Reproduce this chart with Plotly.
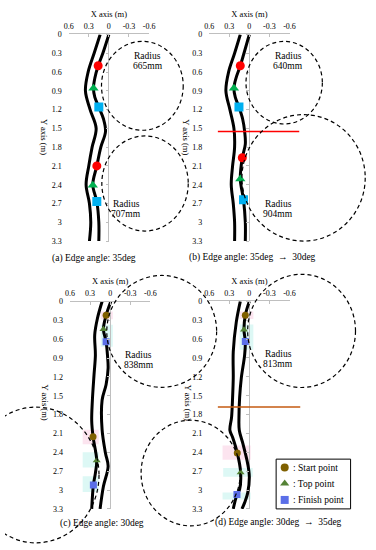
import plotly.graph_objects as go

W, H = 376, 550
FONT = "Liberation Serif"
AXIS_GRAY = "#BFBFBF"

# ---- axis ticks ----
x_ticks = [0.6, 0.3, 0, -0.3, -0.6]
x_tick_text = ["0.6", "0.3", "0", "-0.3", "-0.6"]
y_ticks = [0, 0.3, 0.6, 0.9, 1.2, 1.5, 1.8, 2.1, 2.4, 2.7, 3.0, 3.3]
y_tick_text = ["0", "0.3", "0.6", "0.9", "1.2", "1.5", "1.8", "2.1", "2.4", "2.7", "3", "3.3"]

captions = ["(a) Edge angle: 35deg",
            "(b) Edge angle: 35deg  \u2192  30deg",
            "(c) Edge angle: 30deg",
            "(d) Edge angle: 30deg  \u2192  35deg"]

# ---- edge curves (x, y in metres) ----
a_left_y = [0, 0.3, 0.6, 0.9, 1.2, 1.5, 1.8, 2.1, 2.4, 2.7, 3.0, 3.3]
a_left_x = [0.13, 0.22, 0.31, 0.35, 0.28, 0.19, 0.25, 0.30, 0.34, 0.29, 0.27, 0.29]
a_right_y = [0, 0.3, 0.5, 0.7, 0.86, 1.0, 1.16, 1.35, 1.55, 1.8, 2.1, 2.4, 2.67, 3.0, 3.3]
a_right_x = [0.0, 0.09, 0.16, 0.21, 0.23, 0.21, 0.15, 0.08, 0.05, 0.12, 0.18, 0.24, 0.18, 0.15, 0.15]

b_left_y = [0, 0.3, 0.6, 0.9, 1.2, 1.5, 1.8, 2.1, 2.4, 2.7, 3.0, 3.3]
b_left_x = [0.135, 0.22, 0.31, 0.35, 0.29, 0.23, 0.22, 0.25, 0.27, 0.24, 0.22, 0.22]
b_right_y = [0, 0.3, 0.5, 0.7, 0.86, 1.0, 1.16, 1.35, 1.55, 1.75, 1.97, 2.31, 2.64, 3.0, 3.3]
b_right_x = [0.0, 0.08, 0.135, 0.2, 0.23, 0.21, 0.155, 0.1, 0.07, 0.06, 0.105, 0.135, 0.087, 0.06, 0.06]

c_left_y = [0, 0.27, 0.53, 0.85, 1.16, 1.57, 1.9, 2.15, 2.53, 2.73, 2.92, 3.3]
c_left_x = [0.12, 0.19, 0.23, 0.22, 0.24, 0.265, 0.275, 0.255, 0.20, 0.22, 0.25, 0.275]
c_right_y = [0, 0.22, 0.44, 0.64, 0.85, 1.06, 1.32, 1.57, 2.04, 2.41, 2.62, 2.94, 3.3]
c_right_x = [-0.01, 0.06, 0.10, 0.06, 0.04, 0.03, 0.06, 0.12, 0.12, 0.07, 0.03, 0.10, 0.15]

d_left_y = [0, 0.33, 0.8, 1.22, 1.53, 1.84, 2.05, 2.16, 2.41, 2.72, 2.99, 3.09, 3.3]
d_left_x = [0.135, 0.195, 0.24, 0.24, 0.25, 0.265, 0.29, 0.25, 0.18, 0.13, 0.145, 0.19, 0.24]
d_right_y = [0, 0.22, 0.45, 0.64, 0.85, 1.22, 1.53, 1.84, 2.05, 2.26, 2.58, 2.79, 3.05, 3.2, 3.3]
d_right_x = [0.0, 0.06, 0.08, 0.06, 0.07, 0.12, 0.145, 0.155, 0.15, 0.097, 0.025, 0.0, 0.025, 0.07, 0.11]

left_x = [a_left_x, b_left_x, c_left_x, d_left_x]
left_y = [a_left_y, b_left_y, c_left_y, d_left_y]
right_x = [a_right_x, b_right_x, c_right_x, d_right_x]
right_y = [a_right_y, b_right_y, c_right_y, d_right_y]

# ---- start / top / finish points ----
start_x = [[0.16, 0.18], [0.135, 0.105], [0.06, 0.255], [0.06, 0.18]]
start_y = [[0.50, 2.10], [0.50, 1.97], [0.22, 2.15], [0.22, 2.41]]
top_x = [[0.23, 0.24], [0.23, 0.135], [0.10, 0.20], [0.08, 0.13]]
top_y = [[0.86, 2.41], [0.86, 2.31], [0.44, 2.53], [0.45, 2.72]]
finish_x = [[0.15, 0.18], [0.155, 0.087], [0.06, 0.25], [0.06, 0.185]]
finish_y = [[1.16, 2.67], [1.16, 2.64], [0.64, 2.92], [0.64, 3.07]]

# highlighted zones behind the points (panels c, d): x0, x1, y0, y1
zone_start = [None, None, [[0.14, -0.04, 0.16, 0.28], [0.41, 0.17, 2.04, 2.27]],
              [[0.145, -0.06, 0.16, 0.28], [0.40, -0.02, 2.29, 2.52]]]
zone_run = [None, None, [[0.14, -0.04, 0.37, 0.72], [0.41, 0.17, 2.40, 2.64], [0.41, 0.17, 2.78, 3.03]],
            [[0.145, -0.06, 0.37, 0.77], [0.39, -0.05, 2.65, 2.79], [0.40, -0.02, 3.04, 3.15]]]

# ---- turning circles ----
circle_panel = [0, 0, 1, 1, 2, 2, 3, 3]
circle_radius_mm = [665, 707, 640, 904, 838, 922, 813, 716]
circle_cx = [-0.50, -0.54, -0.52, -0.81, -0.77, 1.106, -0.78, 0.876]
circle_cy = [0.82, 2.38, 0.77, 2.29, 0.475, 2.76, 0.47, 2.73]
circle_rx = [0.61, 0.645, 0.57, 0.92, 0.82, 0.94, 0.805, 0.74]
circle_ry = [0.71, 0.76, 0.66, 1.01, 0.89, 1.08, 0.90, 0.84]
label_x = [-0.58, -0.26, -0.58, -0.43, -0.43, 1.27, -0.43, 1.18]
label_y = [0.42, 2.78, 0.43, 2.79, 0.93, 3.23, 0.91, 3.15]

# ---- edge-angle change lines ----
change_panel = [1, 3]
change_y = [1.55, 1.68]
change_x = [[0.47, -0.745], [0.47, -0.76]]
change_color = ["#FF0000", "#C55A11"]

# ---- key ----
key_names = [": Start point", ": Top point", ": Finish point"]
key_symbols = ["circle", "triangle-up", "square"]

# plot areas in pixels: left, right, top, bottom
plot_boxes = [(65.6, 148.4, 31, 241), (210.3, 293.1, 31, 241),
              (66.9, 149.7, 302.5, 513.3), (210.3, 293.1, 302.3, 513.3)]
caption_pos = [(92, 259), (255, 258), (100, 528), (282, 527)]
ytitle_pos = [(40, 135), (187, 135), (41, 405), (188, 405)]
key_box = (279.3, 356, 462.7, 513.3)

point_colors = [["#FF0000", "#00B050", "#00B0F0"]] * 2 + [["#7F6000", "#548235", "#5B6FE8"]] * 2
point_sizes = [9, 9, 7, 7]


def key(letter, n):
    return f"{letter}axis" if n == 1 else f"{letter}axis{n}"


def ref(letter, n):
    return letter if n == 1 else f"{letter}{n}"


fig = go.Figure()
layout_axes = {}
shapes = []
annotations = []

for i in range(4):
    n, m, z = i + 1, i + 5, i + 10
    l, r, t, b = plot_boxes[i]
    xd = [l / W, r / W]
    yd = [1 - b / H, 1 - t / H]

    layout_axes[key("x", n)] = dict(
        domain=xd, range=[0.6, -0.6], autorange=False, anchor=ref("y", n), side="top",
        tickvals=x_ticks, ticktext=x_tick_text, tickfont=dict(size=8),
        showline=True, linecolor=AXIS_GRAY, linewidth=1, ticks="inside", ticklen=3,
        tickcolor=AXIS_GRAY, showgrid=False, zeroline=True, zerolinecolor=AXIS_GRAY,
        zerolinewidth=1, ticklabelstandoff=1,
        title=dict(text="X axis (m)", font=dict(size=8.5), standoff=3))
    layout_axes[key("y", n)] = dict(
        domain=yd, range=[3.3, 0], autorange=False, anchor=ref("x", n),
        tickvals=y_ticks, ticktext=y_tick_text, tickfont=dict(size=8),
        showline=False, ticks="", showgrid=False, zeroline=False, ticklabelstandoff=6)
    # tick marks along the x = 0 line
    layout_axes[key("y", z)] = dict(
        overlaying=ref("y", n), anchor="free", position=(l + r) / 2 / W, side="left",
        range=[3.3, 0], autorange=False, tickvals=y_ticks, ticks="outside", ticklen=3,
        tickcolor=AXIS_GRAY, showticklabels=False, showline=False, showgrid=False,
        zeroline=False)
    fig.add_trace(go.Scatter(x=[None], y=[None], xaxis=ref("x", n), yaxis=ref("y", z),
                             showlegend=False, hoverinfo="skip"))

    # invisible full-page axes with the same scale, so circles can run past the plot area
    sx = (-1.2) / (xd[1] - xd[0])
    sy = (-3.3) / (yd[1] - yd[0])
    layout_axes[key("x", m)] = dict(
        domain=[0, 1], range=[0.6 - xd[0] * sx, 0.6 + (1 - xd[0]) * sx], autorange=False,
        anchor=ref("y", m), visible=False, showgrid=False, zeroline=False)
    layout_axes[key("y", m)] = dict(
        domain=[0, 1], range=[3.3 - yd[0] * sy, 3.3 + (1 - yd[0]) * sy], autorange=False,
        anchor=ref("x", m), visible=False, showgrid=False, zeroline=False)
    fig.add_trace(go.Scatter(x=[None], y=[None], xaxis=ref("x", m), yaxis=ref("y", m),
                             showlegend=False, hoverinfo="skip"))

    # shaded zones
    if zone_start[i]:
        for zx0, zx1, zy0, zy1 in zone_start[i]:
            shapes.append(dict(type="rect", xref=ref("x", n), yref=ref("y", n), x0=zx0, x1=zx1,
                               y0=zy0, y1=zy1, fillcolor="#FCE4EF", line_width=0, layer="below"))
        for zx0, zx1, zy0, zy1 in zone_run[i]:
            shapes.append(dict(type="rect", xref=ref("x", n), yref=ref("y", n), x0=zx0, x1=zx1,
                               y0=zy0, y1=zy1, fillcolor="#DDF8F5", line_width=0, layer="below"))

    for cx, cy in [(left_x[i], left_y[i]), (right_x[i], right_y[i])]:
        fig.add_trace(go.Scatter(x=cx, y=cy, mode="lines", xaxis=ref("x", n), yaxis=ref("y", n),
                                 line=dict(color="black", width=3, shape="spline"),
                                 showlegend=False, hoverinfo="skip"))

    pts = [(start_x[i], start_y[i]), (top_x[i], top_y[i]), (finish_x[i], finish_y[i])]
    for k in range(3):
        fig.add_trace(go.Scatter(x=pts[k][0], y=pts[k][1], mode="markers", name=key_names[k],
                                 xaxis=ref("x", n), yaxis=ref("y", n),
                                 marker=dict(symbol=key_symbols[k], size=point_sizes[i],
                                             color=point_colors[i][k]),
                                 showlegend=False, hoverinfo="skip"))

    cx_px, cy_px = caption_pos[i]
    annotations.append(dict(text=captions[i], xref="paper", yref="paper", x=cx_px / W,
                            y=1 - cy_px / H, xanchor="center", yanchor="middle",
                            showarrow=False, font=dict(size=9.5)))
    tx_px, ty_px = ytitle_pos[i]
    annotations.append(dict(text="Y axis (m)", xref="paper", yref="paper", x=tx_px / W,
                            y=1 - ty_px / H, xanchor="center", yanchor="middle",
                            showarrow=False, textangle=90, font=dict(size=8.5)))

for j in range(len(change_panel)):
    m = change_panel[j] + 5
    fig.add_trace(go.Scatter(x=change_x[j], y=[change_y[j]] * 2, mode="lines",
                             xaxis=ref("x", m), yaxis=ref("y", m),
                             line=dict(color=change_color[j], width=1.5),
                             showlegend=False, hoverinfo="skip"))

for j in range(len(circle_panel)):
    m = circle_panel[j] + 5
    n = circle_panel[j] + 1
    shapes.append(dict(type="circle", xref=ref("x", m), yref=ref("y", m),
                       x0=circle_cx[j] - circle_rx[j], x1=circle_cx[j] + circle_rx[j],
                       y0=circle_cy[j] - circle_ry[j], y1=circle_cy[j] + circle_ry[j],
                       line=dict(color="black", width=1.2, dash="4px,3px"), layer="above"))
    annotations.append(dict(text="Radius", xref=ref("x", n), yref=ref("y", n), x=label_x[j],
                            y=label_y[j], yshift=5, showarrow=False, font=dict(size=9.5)))
    annotations.append(dict(text=f"{circle_radius_mm[j]}mm", xref=ref("x", n), yref=ref("y", n),
                            x=label_x[j], y=label_y[j], yshift=-5, showarrow=False,
                            font=dict(size=9.5)))

# key box (panel d) on its own small axes
kl, kr, kt, kb = key_box
layout_axes["xaxis9"] = dict(domain=[kl / W, kr / W], range=[0, 1], autorange=False,
                             anchor="y9", visible=False)
layout_axes["yaxis9"] = dict(domain=[1 - kb / H, 1 - kt / H], range=[0, 1], autorange=False,
                             anchor="x9", visible=False)
shapes.append(dict(type="rect", xref="x9 domain", yref="y9 domain", x0=0, x1=1, y0=0, y1=1,
                   line=dict(color="black", width=1), fillcolor="white", layer="below"))
key_row_y = [0.83, 0.51, 0.18]
for k in range(3):
    fig.add_trace(go.Scatter(x=[0.115], y=[key_row_y[k]], mode="markers", xaxis="x9", yaxis="y9",
                             marker=dict(symbol=key_symbols[k], size=8, color=point_colors[3][k]),
                             showlegend=False, hoverinfo="skip", cliponaxis=False))
    annotations.append(dict(text=key_names[k], xref="x9", yref="y9", x=0.2, y=key_row_y[k],
                            xanchor="left", yanchor="middle", showarrow=False,
                            font=dict(size=9.5)))

fig.update_layout(
    width=W, height=H, margin=dict(l=0, r=0, t=0, b=0),
    paper_bgcolor="white", plot_bgcolor="rgba(0,0,0,0)",
    font=dict(family=FONT, color="black"),
    hovermode=False, shapes=shapes, annotations=annotations,
    showlegend=False,
    **layout_axes)

fig.write_html("out.html", config={"displayModeBar": False, "staticPlot": True},
               post_script="document.body.style.margin='0px';")
